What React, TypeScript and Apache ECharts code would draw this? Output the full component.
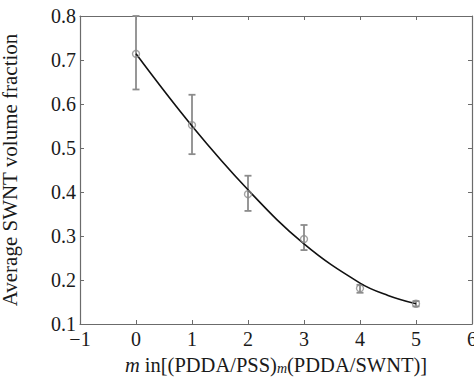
import React, { useEffect, useRef } from "react";
import * as echarts from "echarts";

const layers = [0, 1, 2, 3, 4, 5];
const meanFraction = [0.714, 0.552, 0.395, 0.293, 0.181, 0.146];
const errLow = [0.633, 0.486, 0.357, 0.268, 0.171, 0.14];
const errHigh = [0.8, 0.621, 0.437, 0.325, 0.189, 0.152];
const fitX = [0, 1, 2, 3, 4, 4.5, 5];
const fitY = [0.714, 0.55, 0.405, 0.282, 0.193, 0.165, 0.146];
const xTicks = [-1, 0, 1, 2, 3, 4, 5, 6];
const yTicks = [0.1, 0.2, 0.3, 0.4, 0.5, 0.6, 0.7, 0.8];

const FONT = "Liberation Serif";
const AXIS_COLOR = "#6b6b6b";
const POINT_COLOR = "#8c8c8c";
const TEXT_COLOR = "#1a1a1a";

export default function App() {
  const ref = useRef<HTMLDivElement>(null);
  useEffect(() => {
    if (!ref.current) return;
    const chart = echarts.init(ref.current, undefined, { renderer: "svg" });
    const axisLine = { show: true, onZero: false, lineStyle: { color: AXIS_COLOR, width: 1.2 } };
    const tick = { show: true, inside: true, length: 4, lineStyle: { color: AXIS_COLOR } };
    chart.setOption({
      animation: false,
      textStyle: { fontFamily: FONT },
      grid: { left: 80, right: 2, top: 16, bottom: 53, containLabel: false, outerBoundsMode: "none" },
      xAxis: [
        {
          type: "value",
          min: xTicks[0],
          max: xTicks[xTicks.length - 1],
          interval: 1,
          axisLine,
          axisTick: tick,
          splitLine: { show: false },
          axisLabel: {
            fontFamily: FONT,
            fontSize: 20,
            color: TEXT_COLOR,
            margin: 5,
            formatter: (v: number) => String(v).replace("-", "\u2212"),
          },
          name: "{i|m} in[(PDDA/PSS){sub|m}(PDDA/SWNT)]",
          nameLocation: "middle",
          nameGap: 30,
          nameTextStyle: {
            fontFamily: FONT,
            fontSize: 20.5,
            lineHeight: 20,
            color: TEXT_COLOR,
            rich: {
              i: { fontFamily: FONT, fontSize: 20.5, lineHeight: 20, fontStyle: "italic", color: TEXT_COLOR },
              sub: { fontFamily: FONT, fontSize: 14, lineHeight: 20, fontStyle: "italic", color: TEXT_COLOR, padding: [8, 0, 0, 0] },
            },
          },
        },
        {
          type: "value",
          position: "top",
          min: xTicks[0],
          max: xTicks[xTicks.length - 1],
          interval: 1,
          axisLine,
          axisTick: tick,
          axisLabel: { show: false },
          splitLine: { show: false },
        },
      ],
      yAxis: [
        {
          type: "value",
          min: yTicks[0],
          max: yTicks[yTicks.length - 1],
          interval: 0.1,
          axisLine,
          axisTick: tick,
          splitLine: { show: false },
          axisLabel: {
            fontFamily: FONT,
            fontSize: 20,
            color: TEXT_COLOR,
            margin: 4,
            formatter: (v: number) => v.toFixed(1),
          },
          name: "Average SWNT volume fraction",
          nameLocation: "middle",
          nameGap: 60,
          nameTextStyle: { fontFamily: FONT, fontSize: 21, lineHeight: 20, color: TEXT_COLOR },
        },
        {
          type: "value",
          position: "right",
          min: yTicks[0],
          max: yTicks[yTicks.length - 1],
          interval: 0.1,
          axisLine,
          axisTick: tick,
          axisLabel: { show: false },
          splitLine: { show: false },
        },
      ],
      series: [
        {
          type: "custom",
          data: layers.map((x, i) => [x, errLow[i], errHigh[i]]),
          renderItem: (params: any, api: any) => {
            const x = api.value(0);
            const lo = api.coord([x, api.value(1)]);
            const hi = api.coord([x, api.value(2)]);
            const hw = 3.5;
            const style = { stroke: POINT_COLOR, lineWidth: 1.8 };
            return {
              type: "group",
              children: [
                { type: "line", shape: { x1: lo[0], y1: lo[1], x2: hi[0], y2: hi[1] }, style },
                { type: "line", shape: { x1: lo[0] - hw, y1: lo[1], x2: lo[0] + hw, y2: lo[1] }, style },
                { type: "line", shape: { x1: hi[0] - hw, y1: hi[1], x2: hi[0] + hw, y2: hi[1] }, style },
              ],
            };
          },
          z: 2,
        },
        {
          type: "line",
          data: fitX.map((x, i) => [x, fitY[i]]),
          smooth: 0.4,
          showSymbol: false,
          lineStyle: { color: "#111", width: 1.6 },
          z: 3,
        },
        {
          type: "scatter",
          data: layers.map((x, i) => [x, meanFraction[i]]),
          symbol: "circle",
          symbolSize: 7,
          itemStyle: { color: "rgba(255,255,255,0)", borderColor: POINT_COLOR, borderWidth: 1.4 },
          z: 4,
        },
      ],
    });
    return () => chart.dispose();
  }, []);
  return <div ref={ref} style={{ width: 474, height: 377, position: "absolute", left: 0, top: 0, background: "#fff" }} />;
}
